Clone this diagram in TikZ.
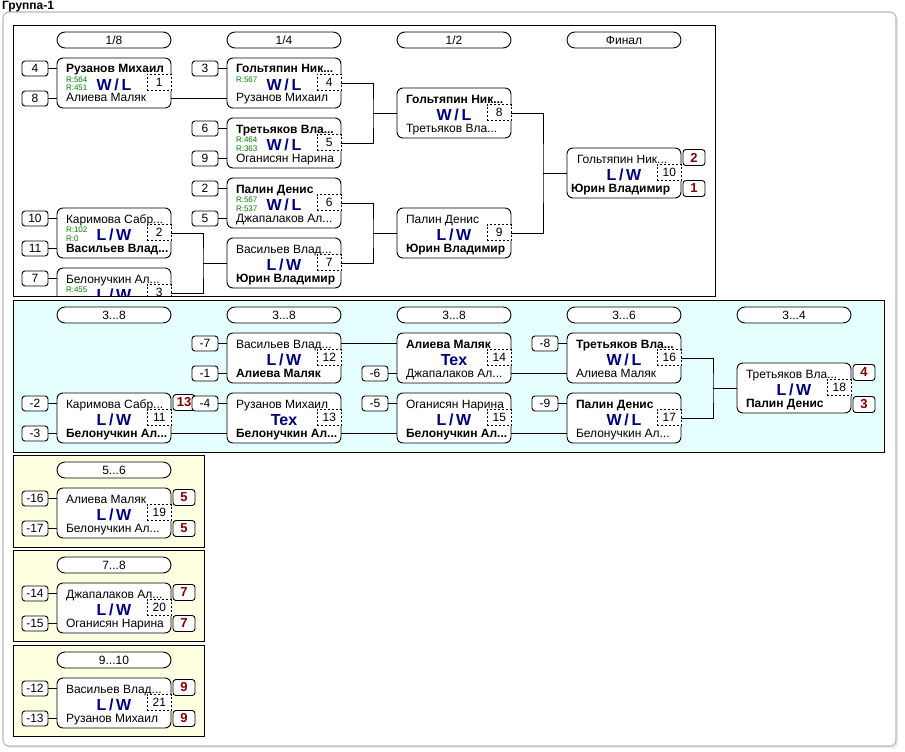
\documentclass[tikz,border=0pt]{standalone}
\usepackage{fontspec}
\setmainfont{Liberation Sans}
\definecolor{wlblue}{RGB}{0,0,128}
\definecolor{rgreen}{RGB}{0,128,0}
\definecolor{resred}{RGB}{128,0,0}
\definecolor{cyanbg}{RGB}{229,255,255}
\definecolor{yelbg}{RGB}{255,255,226}
\definecolor{framegray}{RGB}{185,185,185}
\newcommand\WL{W\,/\,L}
\newcommand\LW{L\,/\,W}
\tikzset{
 every node/.style={inner sep=0pt, outer sep=0pt},
 conn/.style={draw=black, line width=0.9pt},
 matchbox/.style={draw=black, line width=0.9pt, fill=white, rounded corners=6pt, minimum width=114pt, minimum height=50pt, anchor=north west},
 nm/.style={font=\fontsize{12}{12}\selectfont, anchor=base west},
 nmb/.style={font=\bfseries\fontsize{12}{12}\selectfont, anchor=base west},
 wl/.style={font=\bfseries\fontsize{16}{16}\selectfont, text=wlblue, anchor=base},
 rt/.style={font=\fontsize{8}{8}\selectfont, text=rgreen, anchor=base west},
 numbox/.style={draw=black, line width=0.8pt, dash pattern=on 2pt off 2pt, fill=white, minimum width=24.6pt, minimum height=16pt, font=\fontsize{12}{12}\selectfont},
 seedbox/.style={draw=black, line width=0.9pt, fill=white, rounded corners=3pt, minimum width=26pt, minimum height=15pt, font=\fontsize{12}{12}\selectfont},
 resbox/.style={draw=black, line width=0.9pt, fill=white, rounded corners=3pt, minimum width=22pt, minimum height=16pt, font=\bfseries\fontsize{13}{13}\selectfont, text=resred},
 pill/.style={draw=black, line width=0.9pt, fill=white, rounded corners=8pt, minimum width=114pt, minimum height=16pt, font=\fontsize{12}{12}\selectfont},
 panel/.style={draw=black, line width=0.9pt},
}
% #1 id, #2 L, #3 T, #4 top style, #5 top text, #6 mid, #7 bottom style, #8 bottom text, #9 number
\newcommand\mtch[9]{%
 \node[matchbox] (#1) at (#2,#3) {};
 \coordinate (#1-i1) at ({#2},{#3+10.5});
 \coordinate (#1-i2) at ({#2},{#3+40.5});
 \coordinate (#1-ic) at ({#2},{#3+25});
 \coordinate (#1-o1) at ({#2+114},{#3+10.5});
 \coordinate (#1-o2) at ({#2+114},{#3+40.5});
 \coordinate (#1-oc) at ({#2+114},{#3+25});
 \node[#4] (#1-a) at ({#2+9},{#3+15}) {#5};
 \node[wl] (#1-m) at ({#2+57},{#3+32.5}) {#6};
 \node[#7] (#1-b) at ({#2+9},{#3+44}) {#8};
 \node[numbox] (#1-n) at ({#2+102.3},{#3+24.5}) {#9};
}
% R labels: #1 id, #2 L, #3 T, #4 first, #5 second
\newcommand\rtwo[5]{%
 \node[rt] (#1-r1) at ({#2+9},{#3+24.5}) {#4};
 \node[rt] (#1-r2) at ({#2+9},{#3+33}) {#5};
}
\begin{document}
\begin{tikzpicture}[x=1pt,y=-1pt]
\useasboundingbox (0,0) rectangle (905,752);
% outer frame
\fill[gray!18, rounded corners=6pt] (5,14) rectangle (898,748);
\draw[framegray, line width=1.1pt, fill=white, rounded corners=6pt] (3,12) rectangle (896,746);
\node[font=\bfseries\fontsize{12}{12}\selectfont, anchor=base west] (title) at (2,9.5) {Группа-1};

% panel backgrounds
\fill[white] (13,25) rectangle (715,296);
\draw[panel, fill=cyanbg] (13,300) rectangle (884,452);
\draw[panel, fill=yelbg] (13,455) rectangle (204,547);
\draw[panel, fill=yelbg] (13,550) rectangle (204,641);
\draw[panel, fill=yelbg] (13,645) rectangle (204,736);

% ===== main bracket =====
\begin{scope}
\clip (13,25) rectangle (715,296);
\node[pill] (h1) at (114,40) {1/8};
\node[pill] (h2) at (284,40) {1/4};
\node[pill] (h3) at (454,40) {1/2};
\node[pill] (h4) at (624,40) {Финал};

\mtch{M1}{57}{58}{nmb}{Рузанов Михаил}{\WL}{nm}{Алиева Маляк}{1}
\rtwo{M1}{57}{58}{R:564}{R:451}
\mtch{M2}{57}{208}{nm}{Каримова Сабр...}{\LW}{nmb}{Васильев Влад...}{2}
\rtwo{M2}{57}{208}{R:102}{R:0}
\mtch{M3}{57}{268}{nm}{Белонучкин Ал...}{\LW}{nm}{}{3}
\node[rt] (M3-r1) at (66,292.5) {R:455};
\mtch{M4}{227}{58}{nmb}{Гольтяпин Ник...}{\WL}{nm}{Рузанов Михаил}{4}
\node[rt] (M4-r1) at (236,82.5) {R:567};
\mtch{M5}{227}{118}{nmb}{Третьяков Вла...}{\WL}{nm}{Оганисян Нарина}{5}
\rtwo{M5}{227}{118}{R:464}{R:363}
\mtch{M6}{227}{178}{nmb}{Палин Денис}{\WL}{nm}{Джапалаков Ал...}{6}
\rtwo{M6}{227}{178}{R:567}{R:537}
\mtch{M7}{227}{238}{nm}{Васильев Влад...}{\LW}{nmb}{Юрин Владимир}{7}
\mtch{M8}{397}{88}{nmb}{Гольтяпин Ник...}{\WL}{nm}{Третьяков Вла...}{8}
\mtch{M9}{397}{208}{nm}{Палин Денис}{\LW}{nmb}{Юрин Владимир}{9}
\mtch{M10}{567}{148}{nm}{}{\LW}{nm}{}{10}
\node[nm] (M10-a2) at (577,163) {Гольтяпин Ник...};
\node[nmb] (M10-b2) at (571,192) {Юрин Владимир};
\node[resbox] (R10a) at (694,157.5) {2};
\node[resbox] (R10b) at (694,188.5) {1};

% seeds
\node[seedbox] (s4) at (35,68.5) {4};
\node[seedbox] (s8) at (35,98.5) {8};
\node[seedbox] (s10) at (35,218.5) {10};
\node[seedbox] (s11) at (35,248.5) {11};
\node[seedbox] (s7) at (35,278.5) {7};
\node[seedbox] (s3) at (205,68.5) {3};
\node[seedbox] (s6) at (205,128.5) {6};
\node[seedbox] (s9) at (205,158.5) {9};
\node[seedbox] (s2) at (205,188.5) {2};
\node[seedbox] (s5) at (205,218.5) {5};

\draw[conn] (s4) -- (M1-i1);
\draw[conn] (s8) -- (M1-i2);
\draw[conn] (s10) -- (M2-i1);
\draw[conn] (s11) -- (M2-i2);
\draw[conn] (s7) -- (M3-i1);
\draw[conn] (s3) -- (M4-i1);
\draw[conn] (s6) -- (M5-i1);
\draw[conn] (s9) -- (M5-i2);
\draw[conn] (s2) -- (M6-i1);
\draw[conn] (s5) -- (M6-i2);

\draw[conn] (M1-o2) -- (M4-i2);
\coordinate (J3) at (203,263);
\draw[conn] (M2-oc) -| (J3) |- (M3-oc);
\draw[conn] (J3) -- (M7-ic);
\coordinate (J1) at (373,113);
\draw[conn] (M4-oc) -| (J1) |- (M5-oc);
\draw[conn] (J1) -- (M8-ic);
\coordinate (J2) at (373,233);
\draw[conn] (M6-oc) -| (J2) |- (M7-oc);
\draw[conn] (J2) -- (M9-ic);
\coordinate (J4) at (543,173);
\draw[conn] (M8-oc) -| (J4) |- (M9-oc);
\draw[conn] (J4) -- (M10-ic);
\end{scope}
\draw[panel] (13,25) rectangle (715,296);

% ===== consolation =====
\node[pill] (c1) at (114,315) {3...8};
\node[pill] (c2) at (284,315) {3...8};
\node[pill] (c3) at (454,315) {3...8};
\node[pill] (c4) at (624,315) {3...6};
\node[pill] (c5) at (794,315) {3...4};

\mtch{M11}{57}{393}{nm}{Каримова Сабр...}{\LW}{nmb}{Белонучкин Ал...}{11}
\mtch{M12}{227}{333}{nm}{Васильев Влад...}{\LW}{nmb}{Алиева Маляк}{12}
\mtch{M13}{227}{393}{nm}{Рузанов Михаил}{Tex}{nmb}{Белонучкин Ал...}{13}
\mtch{M14}{397}{333}{nmb}{Алиева Маляк}{Tex}{nm}{Джапалаков Ал...}{14}
\mtch{M15}{397}{393}{nm}{Оганисян Нарина}{\LW}{nmb}{Белонучкин Ал...}{15}
\mtch{M16}{567}{333}{nmb}{Третьяков Вла...}{\WL}{nm}{Алиева Маляк}{16}
\mtch{M17}{567}{393}{nmb}{Палин Денис}{\WL}{nm}{Белонучкин Ал...}{17}
\mtch{M18}{737}{363}{nm}{Третьяков Вла...}{\LW}{nmb}{Палин Денис}{18}
\node[resbox] (R11) at (184,402.5) {13};
\node[resbox] (R18a) at (864,372.5) {4};
\node[resbox] (R18b) at (864,404.5) {3};

\node[seedbox] (sm2) at (35,403.5) {-2};
\node[seedbox] (sm3) at (35,433.5) {-3};
\node[seedbox] (sm7) at (205,343.5) {-7};
\node[seedbox] (sm1) at (205,373.5) {-1};
\node[seedbox] (sm4) at (205,403.5) {-4};
\node[seedbox] (sm6) at (375,373.5) {-6};
\node[seedbox] (sm5) at (375,403.5) {-5};
\node[seedbox] (sm8) at (545,343.5) {-8};
\node[seedbox] (sm9) at (545,403.5) {-9};

\draw[conn] (sm2) -- (M11-i1);
\draw[conn] (sm3) -- (M11-i2);
\draw[conn] (sm7) -- (M12-i1);
\draw[conn] (sm1) -- (M12-i2);
\draw[conn] (sm4) -- (M13-i1);
\draw[conn] (sm6) -- (M14-i2);
\draw[conn] (sm5) -- (M15-i1);
\draw[conn] (sm8) -- (M16-i1);
\draw[conn] (sm9) -- (M17-i1);
\draw[conn] (M11-o2) -- (M13-i2);
\draw[conn] (M12-o1) -- (M14-i1);
\draw[conn] (M13-o2) -- (M15-i2);
\draw[conn] (M14-o2) -- (M16-i2);
\draw[conn] (M15-o2) -- (M17-i2);
\coordinate (J5) at (713,388);
\draw[conn] (M16-oc) -| (J5) |- (M17-oc);
\draw[conn] (J5) -- (M18-ic);

% ===== placement matches =====
\node[pill] (p1) at (114,470) {5...6};
\mtch{M19}{57}{488}{nm}{Алиева Маляк}{\LW}{nm}{Белонучкин Ал...}{19}
\node[seedbox] (sm16) at (35,498.5) {-16};
\node[seedbox] (sm17) at (35,528.5) {-17};
\draw[conn] (sm16) -- (M19-i1);
\draw[conn] (sm17) -- (M19-i2);
\node[resbox] (R19a) at (184,497.5) {5};
\node[resbox] (R19b) at (184,528.5) {5};

\node[pill] (p2) at (114,565) {7...8};
\mtch{M20}{57}{583}{nm}{Джапалаков Ал...}{\LW}{nm}{Оганисян Нарина}{20}
\node[seedbox] (sm14) at (35,593.5) {-14};
\node[seedbox] (sm15) at (35,623.5) {-15};
\draw[conn] (sm14) -- (M20-i1);
\draw[conn] (sm15) -- (M20-i2);
\node[resbox] (R20a) at (184,592.5) {7};
\node[resbox] (R20b) at (184,623.5) {7};

\node[pill] (p3) at (114,660) {9...10};
\mtch{M21}{57}{678}{nm}{Васильев Влад...}{\LW}{nm}{Рузанов Михаил}{21}
\node[seedbox] (sm12) at (35,688.5) {-12};
\node[seedbox] (sm13) at (35,718.5) {-13};
\draw[conn] (sm12) -- (M21-i1);
\draw[conn] (sm13) -- (M21-i2);
\node[resbox] (R21a) at (184,687.5) {9};
\node[resbox] (R21b) at (184,718.5) {9};
\end{tikzpicture}
\end{document}
